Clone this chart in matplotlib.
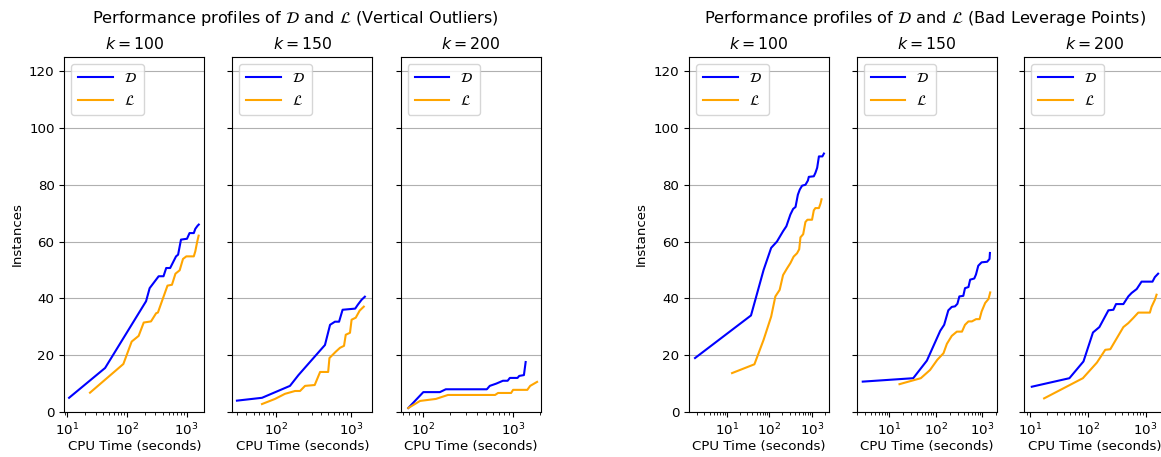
import matplotlib
matplotlib.use("Agg")
import matplotlib.pyplot as plt

# ---------------- data ----------------
group_titles = [r"Performance profiles of $\mathcal{D}$ and $\mathcal{L}$ (Vertical Outliers)",
                r"Performance profiles of $\mathcal{D}$ and $\mathcal{L}$ (Bad Leverage Points)"]
k_values = [100, 150, 200]
series_labels = [r"$\mathcal{D}$", r"$\mathcal{L}$"]

# Vertical outliers, k=100
vo100_D_x = [10.7, 43, 209, 240, 340, 410, 455, 530, 665, 720, 805, 1015, 1120, 1320, 1400, 1530, 1600]
vo100_D_y = [5, 15.5, 39, 43.6, 47.8, 47.8, 50.7, 50.7, 54.8, 55.4, 60.7, 61, 63, 63, 64.5, 65.6, 66]
vo100_L_x = [24, 87, 120, 157, 191, 253, 309, 330, 478, 568, 650, 765, 870, 990, 1320, 1400, 1500, 1590]
vo100_L_y = [6.8, 16.9, 24.8, 26.8, 31.5, 31.9, 34.8, 35, 44.5, 44.8, 48.7, 49.9, 53.9, 54.8, 54.8, 56.6, 59.8, 62.1]

# Vertical outliers, k=150
vo150_D_x = [30, 65, 154, 200, 285, 453, 530, 616, 700, 780, 1150, 1250, 1400, 1550]
vo150_D_y = [4, 5, 9.2, 13, 17.6, 23.6, 30.7, 31.8, 31.8, 36, 36.4, 37.8, 39.5, 40.6]
vo150_L_x = [65, 97, 132, 180, 210, 245, 330, 390, 500, 520, 630, 720, 815, 860, 980, 1030, 1170, 1320, 1500]
vo150_L_y = [2.8, 4.6, 6.4, 7.4, 7.4, 9.2, 9.5, 14.1, 14.1, 19, 21.2, 22.6, 23.3, 27.2, 27.9, 32.5, 33.2, 35.7, 37.1]

# Vertical outliers, k=200
vo200_D_x = [68, 100, 153, 178, 510, 550, 650, 720, 770, 870, 920, 1120, 1170, 1320, 1380]
vo200_D_y = [1.4, 7, 7, 8, 8, 9.2, 10, 10.6, 11, 11, 12, 12, 12.7, 13, 17.6]
vo200_L_x = [68, 92, 138, 188, 630, 680, 950, 1000, 1440, 1550, 1850]
vo200_L_y = [1.4, 3.9, 4.6, 6, 6, 6.7, 6.7, 7.8, 7.8, 9.2, 10.6]

# Bad leverage points, k=100
bl100_D_x = [1.8, 37, 73, 110, 150, 210, 250, 310, 360, 410, 465, 515, 585, 700, 800, 840, 1100, 1200, 1320, 1450, 1750, 1900]
bl100_D_y = [19, 34, 50, 57.8, 60, 63.7, 65.4, 69.5, 71.5, 72.2, 76.5, 78.3, 79.7, 80, 81.5, 82.8, 83, 84.2, 86, 90, 90, 91]
bl100_L_x = [13.3, 44.5, 73, 110, 138, 174, 209, 260, 310, 370, 445, 500, 535, 620, 700, 780, 1000, 1100, 1200, 1450, 1580, 1670]
bl100_L_y = [13.7, 16.8, 25.4, 33.6, 40.7, 43, 48.2, 50.6, 52.4, 54.7, 55.9, 57.3, 61.5, 62.6, 66.9, 67.7, 67.7, 71, 71.8, 71.8, 73.4, 74.9]

# Bad leverage points, k=150
bl150_D_x = [2.7, 33, 65, 126, 153, 188, 223, 262, 295, 325, 395, 430, 510, 555, 680, 740, 830, 980, 1290, 1450, 1480]
bl150_D_y = [10.7, 11.9, 18.1, 28.6, 30.7, 35.8, 37, 37.2, 38.1, 40.7, 40.9, 43.6, 44, 46.6, 47, 48.4, 51.5, 52.7, 52.9, 53.9, 56]
bl150_L_x = [16.7, 48, 76, 109, 148, 175, 223, 287, 370, 430, 510, 605, 745, 885, 980, 1170, 1380, 1500]
bl150_L_y = [9.8, 11.9, 14.8, 18.4, 20.7, 24, 26.8, 28.3, 28.3, 30.7, 31.9, 31.9, 32.7, 32.7, 35.4, 38.4, 39.8, 42.1]

# Bad leverage points, k=200
bl200_D_x = [10.9, 48.6, 85, 124, 160, 229, 279, 310, 415, 505, 575, 705, 855, 1320, 1450, 1650]
bl200_D_y = [8.9, 11.9, 17.8, 28, 29.9, 35.8, 36, 38, 38, 40.7, 41.9, 43.3, 45.9, 45.9, 47.5, 48.7]
bl200_L_x = [17.8, 83, 145, 202, 247, 320, 415, 505, 615, 750, 1190, 1270, 1450, 1550]
bl200_L_y = [4.8, 11.9, 17.4, 21.9, 22.1, 26, 29.9, 31.3, 33.1, 35, 35, 37, 39.5, 41.3]

panels = [
    [(vo100_D_x, vo100_D_y, vo100_L_x, vo100_L_y),
     (vo150_D_x, vo150_D_y, vo150_L_x, vo150_L_y),
     (vo200_D_x, vo200_D_y, vo200_L_x, vo200_L_y)],
    [(bl100_D_x, bl100_D_y, bl100_L_x, bl100_L_y),
     (bl150_D_x, bl150_D_y, bl150_L_x, bl150_L_y),
     (bl200_D_x, bl200_D_y, bl200_L_x, bl200_L_y)],
]

# ---------------- layout ----------------
plt.rcParams["font.size"] = 9.6
W, H = 1161, 457
fig = plt.figure(figsize=(W / 100, H / 100), dpi=100)

lefts_px = [[64.3, 232.3, 400.7], [689.0, 856.7, 1024.3]]
xlims = [[(8.9, 1980), (26, 1950), (56, 2030)],
         [(1.3, 2500), (2.0, 2070), (8.1, 2110)]]
ax_w_px = 140
ax_bot_px = 412
ax_top_px = 57
suptitle_x_px = [295, 925]

for g in range(2):
    for i in range(3):
        ax = fig.add_axes([lefts_px[g][i] / W, (H - ax_bot_px) / H,
                           ax_w_px / W, (ax_bot_px - ax_top_px) / H])
        dx, dy, lx, ly = panels[g][i]
        ax.plot(dx, dy, color="blue", lw=1.5, label=series_labels[0])
        ax.plot(lx, ly, color="orange", lw=1.5, label=series_labels[1])
        ax.set_xscale("log")
        ax.set_xlim(*xlims[g][i])
        ax.set_ylim(0, 125)
        ax.set_yticks([0, 20, 40, 60, 80, 100, 120])
        ax.grid(axis="y")
        ax.set_title(r"$k = %d$" % k_values[i], fontsize=11.3)
        ax.set_xlabel("CPU Time (seconds)", labelpad=1.5)
        ax.legend(loc="upper left", fontsize=10, handlelength=2.5,
                  labelspacing=0.65, borderpad=0.5)
        if i == 0:
            ax.set_ylabel("Instances")
        else:
            ax.tick_params(labelleft=False)
    fig.text(suptitle_x_px[g] / W, 1 - 18 / H, group_titles[g],
             ha="center", va="center", fontsize=11.6)

fig.savefig("out.png", dpi=100)
